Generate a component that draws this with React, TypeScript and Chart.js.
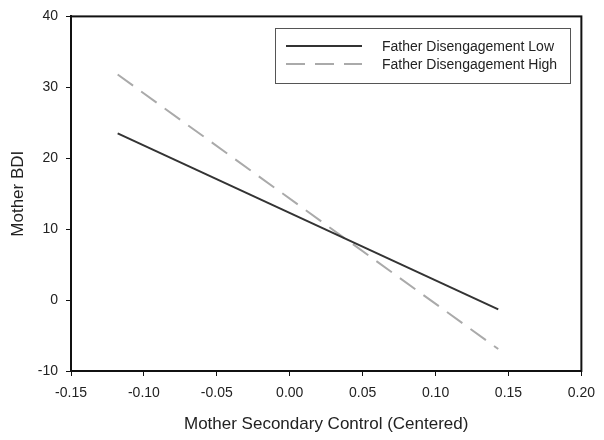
import React, { useEffect, useRef } from "react";
import { Chart, registerables } from "chart.js";

Chart.register(...registerables);

const xValues = [-0.118, 0.143];
const lowValues = [23.5, -1.3];
const highValues = [31.8, -6.9];
const seriesNames = ["Father Disengagement Low", "Father Disengagement High"];
const xTitle = "Mother Secondary Control (Centered)";
const yTitle = "Mother BDI";

const FONT = "'Liberation Sans', Arial, sans-serif";

const frameAndLegend = {
  id: "frameAndLegend",
  afterDraw(chart: any) {
    const { ctx, chartArea } = chart;
    ctx.save();
    ctx.strokeStyle = "#111";
    ctx.lineWidth = 2;
    ctx.strokeRect(chartArea.left, chartArea.top, chartArea.right - chartArea.left, chartArea.bottom - chartArea.top);
    // legend box
    ctx.lineWidth = 1;
    ctx.strokeStyle = "#555";
    ctx.strokeRect(275.5, 28.5, 295, 55);
    const rows = [
      { y: 46, color: "#333", dash: [] as number[] },
      { y: 64, color: "#aaa", dash: [19, 10] },
    ];
    rows.forEach((r, i) => {
      ctx.beginPath();
      ctx.setLineDash(r.dash);
      ctx.strokeStyle = r.color;
      ctx.lineWidth = 2;
      ctx.moveTo(286, r.y);
      ctx.lineTo(362, r.y);
      ctx.stroke();
      ctx.setLineDash([]);
      ctx.fillStyle = "#222";
      ctx.font = `14px ${FONT}`;
      ctx.textBaseline = "middle";
      ctx.textAlign = "left";
      ctx.fillText(seriesNames[i], 382, r.y + 1);
    });
    ctx.restore();
  },
};

export default function App() {
  const ref = useRef<HTMLCanvasElement>(null);
  useEffect(() => {
    document.body.style.margin = "0";
    const chart = new Chart(ref.current!, {
      type: "line",
      data: {
        datasets: [
          {
            label: seriesNames[0],
            data: xValues.map((x, i) => ({ x, y: lowValues[i] })),
            borderColor: "#333",
            borderWidth: 2,
            pointRadius: 0,
          },
          {
            label: seriesNames[1],
            data: xValues.map((x, i) => ({ x, y: highValues[i] })),
            borderColor: "#aaa",
            borderWidth: 2,
            borderDash: [19, 10],
            pointRadius: 0,
          },
        ],
      },
      options: {
        responsive: false,
        animation: false,
        layout: { padding: { top: 12, right: 21, left: 0, bottom: 0 } },
        plugins: { legend: { display: false }, tooltip: { enabled: false } },
        scales: {
          x: {
            type: "linear",
            min: -0.15,
            max: 0.2,
            afterFit: (s: any) => { s.height = 69; },
            ticks: {
              stepSize: 0.05,
              callback: (v: any) => Number(v).toFixed(2),
              color: "#222",
              font: { family: FONT, size: 14 },
              padding: 9,
              maxRotation: 0,
              autoSkip: false,
            },
            grid: { drawOnChartArea: false, drawTicks: true, tickLength: 5, color: "#111" },
            border: { display: true, color: "#111", width: 2 },
            title: {
              display: true,
              text: xTitle,
              color: "#222",
              font: { family: FONT, size: 17 },
              padding: { top: 0, bottom: 5 },
            },
          },
          y: {
            type: "linear",
            min: -10,
            max: 40,
            afterFit: (s: any) => { s.width = 71; },
            ticks: {
              stepSize: 10,
              color: "#222",
              font: { family: FONT, size: 14 },
              padding: 8,
            },
            grid: { drawOnChartArea: false, drawTicks: true, tickLength: 5, color: "#111" },
            border: { display: true, color: "#111", width: 2 },
            title: {
              display: true,
              text: yTitle,
              color: "#222",
              font: { family: FONT, size: 17 },
              padding: { top: 8, bottom: 0 },
            },
          },
        },
      },
      plugins: [frameAndLegend],
    });
    return () => chart.destroy();
  }, []);
  return (
    <div style={{ width: 604, height: 440, background: "#fff" }}>
      <canvas ref={ref} width={604} height={440} />
    </div>
  );
}
